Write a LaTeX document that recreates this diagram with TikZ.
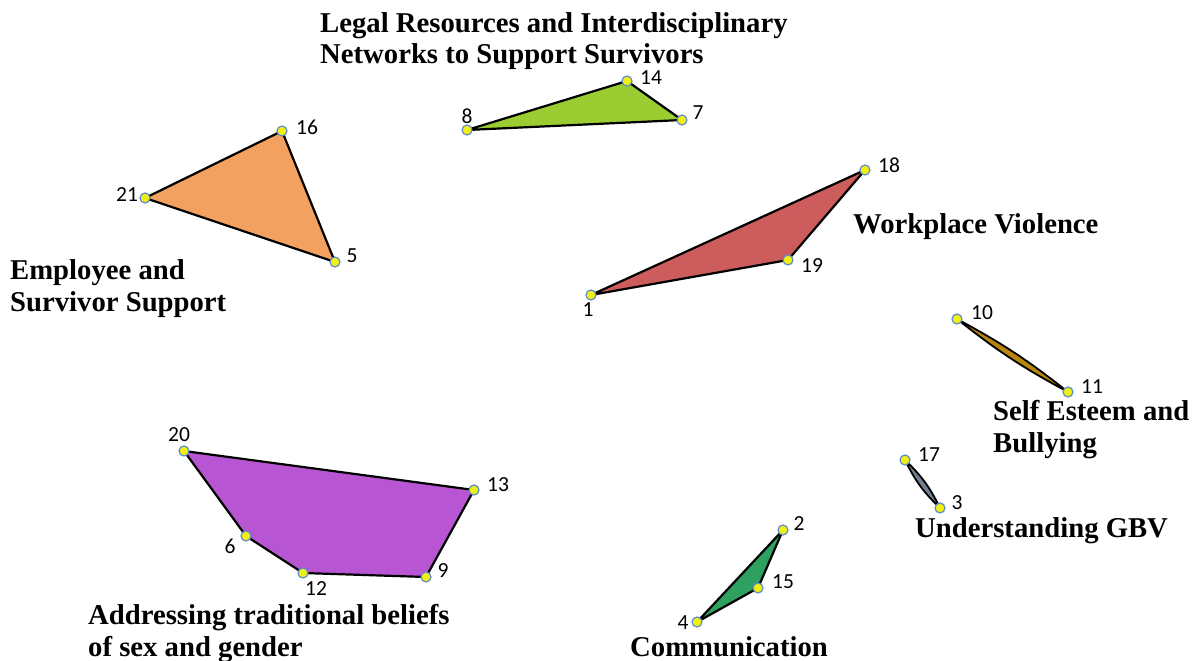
\documentclass[tikz,border=0pt]{standalone}
\usepackage{fontspec}
\setmainfont{Liberation Serif}
\newfontfamily\numfont{Carlito}
\begin{document}
\begin{tikzpicture}[x=1pt,y=-1pt,
  hull/.style={draw=black,line width=2.2pt,line join=round},
  pt/.style={circle,fill={rgb,255:red,240;green,240;blue,20},draw={rgb,255:red,95;green,140;blue,205},line width=1.2pt,minimum size=10pt,inner sep=0pt},
  num/.style={font=\numfont\fontsize{21.5}{21.5}\selectfont,inner sep=0pt},
  cluster/.style={font=\bfseries\fontsize{28.7}{32}\selectfont,align=left,inner sep=0pt,anchor=base west}]
\definecolor{clime}{RGB}{155,205,50}
\definecolor{corange}{RGB}{242,161,96}
\definecolor{cred}{RGB}{205,92,92}
\definecolor{cbrown}{RGB}{184,134,11}
\definecolor{cgrey}{RGB}{112,128,144}
\definecolor{cgreen}{RGB}{46,160,95}
\definecolor{cpurple}{RGB}{184,85,211}
\useasboundingbox[fill=white] (0,0) rectangle (1192,661);

% point positions
\coordinate (c1) at (591,295);
\coordinate (c2) at (783,530);
\coordinate (c3) at (940,508);
\coordinate (c4) at (697,622);
\coordinate (c5) at (335,262);
\coordinate (c6) at (246,536);
\coordinate (c7) at (682,120);
\coordinate (c8) at (467,130);
\coordinate (c9) at (426,577);
\coordinate (c10) at (957,319);
\coordinate (c11) at (1068,392);
\coordinate (c12) at (303,573);
\coordinate (c13) at (474,490);
\coordinate (c14) at (627,81);
\coordinate (c15) at (758,588);
\coordinate (c16) at (282,131);
\coordinate (c17) at (905,460);
\coordinate (c18) at (865,170);
\coordinate (c19) at (788,260);
\coordinate (c20) at (184,451);
\coordinate (c21) at (145,198);

% cluster hulls
\draw[hull,fill=clime] (c8) -- (c14) -- (c7) -- cycle;
\draw[hull,fill=corange] (c21) -- (c16) -- (c5) -- cycle;
\draw[hull,fill=cred] (c1) -- (c18) -- (c19) -- cycle;
\draw[hull,fill=cbrown,line width=1.8pt] (c10) to[bend left=5] (c11) to[bend left=5] cycle;
\draw[hull,fill=cgrey,line width=1.8pt] (c17) to[bend left=10] (c3) to[bend left=10] cycle;
\draw[hull,fill=cgreen] (c4) -- (c2) -- (c15) -- cycle;
\draw[hull,fill=cpurple] (c20) -- (c13) -- (c9) -- (c12) -- (c6) -- cycle;

% point markers
\foreach \i in {1,...,21} \node[pt] (p\i) at (c\i) {};

% point numbers
\node[num] (n1) at (588,310) {1};
\node[num] (n2) at (799,524) {2};
\node[num] (n3) at (957,503) {3};
\node[num] (n4) at (683,623) {4};
\node[num] (n5) at (352,256) {5};
\node[num] (n6) at (230,546) {6};
\node[num] (n7) at (698,113) {7};
\node[num] (n8) at (467,116) {8};
\node[num] (n9) at (443,571) {9};
\node[num] (n10) at (982,313) {10};
\node[num] (n11) at (1092,387) {11};
\node[num] (n12) at (316,589) {12};
\node[num] (n13) at (498,485) {13};
\node[num] (n14) at (651,78) {14};
\node[num] (n15) at (783,582) {15};
\node[num] (n16) at (307,127) {16};
\node[num] (n17) at (929,455) {17};
\node[num] (n18) at (889,165) {18};
\node[num] (n19) at (812,266) {19};
\node[num] (n20) at (179,435) {20};
\node[num] (n21) at (127,195) {21};

% cluster names (two-line names are anchored at the baseline of their last line)
\node[cluster] (legal) at (320,64) {Legal Resources and Interdisciplinary\\Networks to Support Survivors};
\node[cluster] (work) at (853,233) {Workplace Violence};
\node[cluster] (empl) at (10,311) {Employee and\\Survivor Support};
\node[cluster] (self) at (993,452) {Self Esteem and\\Bullying};
\node[cluster] (gbv) at (915,537) {Understanding GBV};
\node[cluster] (trad) at (88,656) {Addressing traditional beliefs\\of sex and gender};
\node[cluster] (comm) at (630,656) {Communication};
\end{tikzpicture}
\end{document}
